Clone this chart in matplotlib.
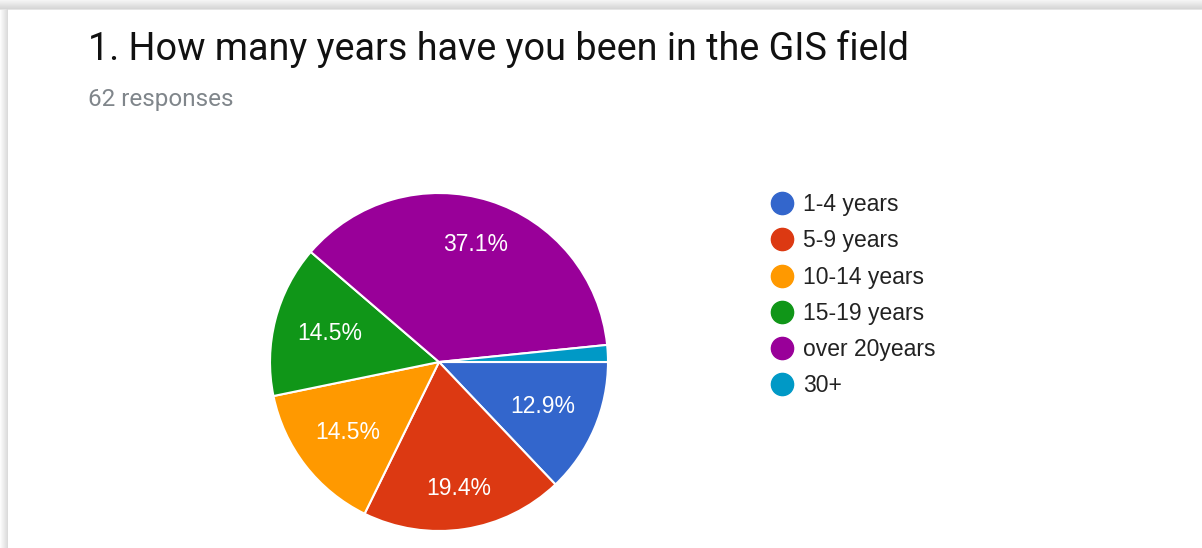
import numpy as np
import matplotlib
matplotlib.use('Agg')
import matplotlib.pyplot as plt
from matplotlib.lines import Line2D

# survey answers (62 responses)
categories = ['1-4 years', '5-9 years', '10-14 years', '15-19 years', 'over 20years', '30+']
counts = [8, 12, 9, 9, 23, 1]
colors = ['#3366cc', '#dc3912', '#ff9900', '#109618', '#990099', '#0099c6']
title = '1. How many years have you been in the GIS field'
subtitle = '62 responses'

W, H = 1202, 548
fig = plt.figure(figsize=(W / 100, H / 100), dpi=100)

# card background with a soft shadow on top / left
bg = fig.add_axes([0, 0, 1, 1])
img = np.ones((H, W, 3))
top = np.linspace(0.96, 0.84, 9)
for i, v in enumerate(top):
    img[i, :, :] = v
img[9, :, :] = 0.90
left = np.linspace(0.99, 0.86, 8)
for j, v in enumerate(left):
    img[9:, j, :] = np.minimum(img[9:, j, :], v)
bg.imshow(img, aspect='auto', extent=[0, W, H, 0])
bg.set_xlim(0, W)
bg.set_ylim(H, 0)
bg.axis('off')

fig.text(88 / W, 1 - 60 / H, title, fontsize=27.2, family='Roboto',
         color='#111111', va='baseline', ha='left')
fig.text(88 / W, 1 - 106 / H, subtitle, fontsize=17.5, family='Roboto',
         color='#80868b', va='baseline', ha='left')

# pie
cx, cy, r = 439, 362, 169
ax = fig.add_axes([(cx - r) / W, (H - cy - r) / H, 2 * r / W, 2 * r / H])
total = sum(counts)


def fmt(p):
    return '%.1f%%' % p if p > 5 else ''


wedges, texts, autotexts = ax.pie(
    counts, colors=colors, startangle=0, counterclock=False, radius=1,
    autopct=fmt, pctdistance=0.7,
    wedgeprops=dict(edgecolor='white', linewidth=1.5),
    textprops=dict(color='white', fontsize=16.5, family='Liberation Sans'))

# label radius per wedge, as google places them
label_r = [0.67, 0.76, 0.68, 0.67, 0.73, 0.7]
for w, t, lr in zip(wedges, autotexts, label_r):
    ang = np.deg2rad((w.theta1 + w.theta2) / 2)
    t.set_position((lr * np.cos(ang), lr * np.sin(ang)))
ax.set_xlim(-1, 1)
ax.set_ylim(-1, 1)
ax.set_aspect('equal')
ax.axis('off')

handles = [Line2D([0], [0], marker='o', linestyle='none', markersize=16,
                  markerfacecolor=c, markeredgecolor=c) for c in colors]
fig.legend(handles, categories, loc='upper left',
           bbox_to_anchor=(772 / W, 1 - 193 / H), frameon=False,
           prop=dict(family='Liberation Sans', size=16.5),
           labelcolor='#222222', handlelength=0.9, handletextpad=0.45,
           labelspacing=0.58, borderaxespad=0, borderpad=0)

fig.savefig('out.png', dpi=100)
